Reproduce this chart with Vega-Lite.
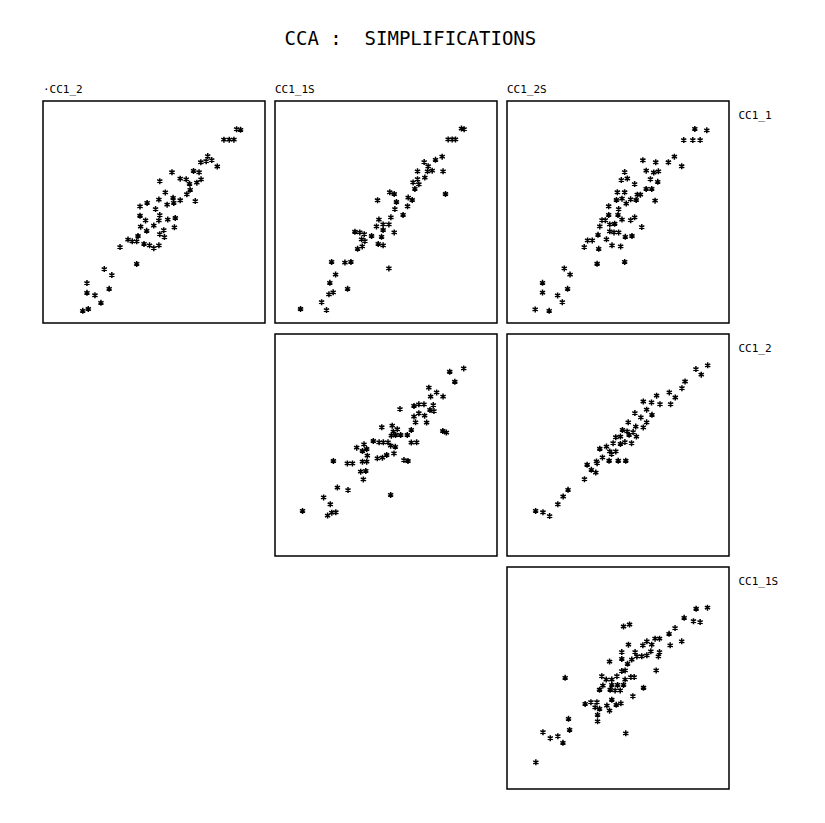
{
  "$schema": "https://vega.github.io/schema/vega-lite/v6.json",
  "background": "white",
  "padding": {"left": 42, "top": 30, "right": 5, "bottom": 5},
  "title": {"text": "CCA :\u00a0 SIMPLIFICATIONS", "font": "DejaVu Sans Mono", "fontSize": 19, "fontWeight": "normal", "color": "black", "anchor": "middle", "offset": 34},
  "config": {
    "view": {"stroke": "black", "strokeWidth": 1.5},
    "title": {"font": "DejaVu Sans Mono", "fontWeight": "normal", "color": "black"}
  },
  "columns": 3,
  "spacing": {"row": 9, "column": 8},
  "data": {"values": [
    {"p":"a","x":87.2,"y":87.3},{"p":"a","x":89.0,"y":87.0},{"p":"a","x":81.5,"y":82.6},{"p":"a","x":83.9,"y":82.6},{"p":"a","x":86.0,"y":82.6},
    {"p":"a","x":74.2,"y":75.2},{"p":"a","x":71.1,"y":72.4},{"p":"a","x":73.5,"y":72.9},{"p":"a","x":76.0,"y":73.4},{"p":"a","x":78.5,"y":70.5},
    {"p":"a","x":58.1,"y":67.9},{"p":"a","x":67.8,"y":68.5},{"p":"a","x":70.3,"y":67.9},{"p":"a","x":52.6,"y":63.9},{"p":"a","x":61.8,"y":65.0},
    {"p":"a","x":64.5,"y":64.7},{"p":"a","x":66.0,"y":62.7},{"p":"a","x":69.3,"y":63.2},{"p":"a","x":71.2,"y":64.7},{"p":"a","x":66.3,"y":60.0},
    {"p":"a","x":55.1,"y":58.8},{"p":"a","x":52.2,"y":55.6},{"p":"a","x":55.9,"y":53.3},{"p":"a","x":58.6,"y":56.4},{"p":"a","x":58.9,"y":54.1},
    {"p":"a","x":61.8,"y":55.3},{"p":"a","x":64.8,"y":58.0},{"p":"a","x":68.6,"y":54.9},{"p":"a","x":43.7,"y":52.5},{"p":"a","x":46.9,"y":54.1},
    {"p":"a","x":50.7,"y":51.3},{"p":"a","x":52.6,"y":48.6},{"p":"a","x":56.2,"y":46.6},{"p":"a","x":59.6,"y":47.3},{"p":"a","x":46.2,"y":46.2},
    {"p":"a","x":43.7,"y":48.3},{"p":"a","x":52.2,"y":46.2},{"p":"a","x":54.4,"y":41.8},{"p":"a","x":59.2,"y":43.1},{"p":"a","x":44.0,"y":43.4},
    {"p":"a","x":46.7,"y":41.5},{"p":"a","x":49.9,"y":43.9},{"p":"a","x":52.6,"y":40.0},{"p":"a","x":54.7,"y":38.7},{"p":"a","x":42.8,"y":39.2},
    {"p":"a","x":38.3,"y":37.6},{"p":"a","x":40.2,"y":36.8},{"p":"a","x":42.2,"y":36.8},{"p":"a","x":45.5,"y":35.6},{"p":"a","x":48.0,"y":35.0},
    {"p":"a","x":49.9,"y":33.7},{"p":"a","x":52.2,"y":35.0},{"p":"a","x":34.7,"y":34.2},{"p":"a","x":42.2,"y":26.6},{"p":"a","x":27.6,"y":24.3},
    {"p":"a","x":31.0,"y":21.6},{"p":"a","x":19.8,"y":18.0},{"p":"a","x":29.8,"y":15.4},{"p":"a","x":19.8,"y":13.6},{"p":"a","x":23.4,"y":12.5},
    {"p":"a","x":26.1,"y":9.1},{"p":"a","x":17.9,"y":5.5},{"p":"a","x":20.4,"y":6.3},

    {"p":"b","x":84.0,"y":87.6},{"p":"b","x":85.2,"y":87.3},{"p":"b","x":78.0,"y":82.7},{"p":"b","x":79.8,"y":82.7},{"p":"b","x":81.3,"y":82.7},
    {"p":"b","x":75.3,"y":74.9},{"p":"b","x":72.3,"y":73.5},{"p":"b","x":67.2,"y":72.5},{"p":"b","x":69.0,"y":70.6},{"p":"b","x":70.8,"y":68.6},
    {"p":"b","x":64.2,"y":68.3},{"p":"b","x":68.7,"y":68.3},{"p":"b","x":75.7,"y":68.3},{"p":"b","x":64.2,"y":64.8},{"p":"b","x":67.5,"y":65.5},
    {"p":"b","x":62.2,"y":63.3},{"p":"b","x":64.8,"y":62.5},{"p":"b","x":63.0,"y":60.4},{"p":"b","x":76.8,"y":58.1},{"p":"b","x":46.2,"y":55.3},
    {"p":"b","x":51.7,"y":58.9},{"p":"b","x":53.7,"y":58.1},{"p":"b","x":54.7,"y":54.5},{"p":"b","x":60.0,"y":56.5},{"p":"b","x":61.8,"y":55.4},
    {"p":"b","x":59.7,"y":52.6},{"p":"b","x":54.0,"y":51.3},{"p":"b","x":57.7,"y":48.7},{"p":"b","x":52.2,"y":47.6},{"p":"b","x":46.8,"y":46.6},
    {"p":"b","x":45.7,"y":43.5},{"p":"b","x":48.7,"y":44.4},{"p":"b","x":51.3,"y":44.4},{"p":"b","x":48.7,"y":41.9},{"p":"b","x":53.7,"y":40.8},
    {"p":"b","x":48.0,"y":38.8},{"p":"b","x":36.0,"y":41.1},{"p":"b","x":38.2,"y":40.8},{"p":"b","x":40.2,"y":40.0},{"p":"b","x":43.5,"y":39.2},
    {"p":"b","x":39.0,"y":37.7},{"p":"b","x":40.5,"y":36.9},{"p":"b","x":46.5,"y":35.6},{"p":"b","x":48.7,"y":35.0},{"p":"b","x":39.3,"y":34.5},
    {"p":"b","x":37.2,"y":33.4},{"p":"b","x":51.3,"y":24.6},{"p":"b","x":25.5,"y":27.5},{"p":"b","x":31.5,"y":27.2},{"p":"b","x":34.2,"y":27.5},
    {"p":"b","x":27.3,"y":21.8},{"p":"b","x":24.7,"y":18.1},{"p":"b","x":26.2,"y":13.8},{"p":"b","x":24.3,"y":12.9},{"p":"b","x":32.7,"y":15.4},
    {"p":"b","x":21.0,"y":9.4},{"p":"b","x":11.5,"y":6.3},{"p":"b","x":23.2,"y":5.8},

    {"p":"c","x":84.6,"y":87.4},{"p":"c","x":90.0,"y":86.8},{"p":"c","x":79.6,"y":82.4},{"p":"c","x":83.7,"y":82.4},{"p":"c","x":87.0,"y":82.4},
    {"p":"c","x":61.2,"y":73.3},{"p":"c","x":67.0,"y":72.4},{"p":"c","x":72.7,"y":72.4},{"p":"c","x":75.4,"y":74.9},{"p":"c","x":78.7,"y":70.6},
    {"p":"c","x":53.0,"y":68.0},{"p":"c","x":62.7,"y":68.6},{"p":"c","x":66.1,"y":67.8},{"p":"c","x":68.2,"y":68.3},{"p":"c","x":51.5,"y":64.4},
    {"p":"c","x":54.2,"y":65.1},{"p":"c","x":64.6,"y":64.8},{"p":"c","x":67.9,"y":63.6},{"p":"c","x":57.5,"y":62.6},{"p":"c","x":62.7,"y":60.4},
    {"p":"c","x":65.2,"y":60.4},{"p":"c","x":66.7,"y":55.1},{"p":"c","x":49.7,"y":58.9},{"p":"c","x":53.0,"y":58.9},{"p":"c","x":49.3,"y":55.4},
    {"p":"c","x":51.8,"y":56.0},{"p":"c","x":53.7,"y":53.8},{"p":"c","x":55.7,"y":55.7},{"p":"c","x":58.2,"y":55.4},{"p":"c","x":58.7,"y":57.8},
    {"p":"c","x":60.1,"y":57.8},{"p":"c","x":45.8,"y":52.6},{"p":"c","x":50.3,"y":51.3},{"p":"c","x":45.8,"y":48.7},{"p":"c","x":50.0,"y":48.7},
    {"p":"c","x":42.8,"y":46.3},{"p":"c","x":44.3,"y":46.3},{"p":"c","x":51.8,"y":46.6},{"p":"c","x":55.7,"y":46.3},{"p":"c","x":57.5,"y":47.6},
    {"p":"c","x":41.8,"y":43.5},{"p":"c","x":46.3,"y":44.4},{"p":"c","x":48.5,"y":44.7},{"p":"c","x":46.3,"y":41.3},{"p":"c","x":48.2,"y":40.8},
    {"p":"c","x":50.3,"y":40.8},{"p":"c","x":53.3,"y":38.8},{"p":"c","x":56.3,"y":39.2},{"p":"c","x":60.7,"y":43.2},{"p":"c","x":41.0,"y":39.7},
    {"p":"c","x":36.3,"y":37.2},{"p":"c","x":38.4,"y":37.2},{"p":"c","x":34.8,"y":34.2},{"p":"c","x":44.8,"y":37.7},{"p":"c","x":47.3,"y":35.0},
    {"p":"c","x":51.2,"y":34.5},{"p":"c","x":41.3,"y":33.4},{"p":"c","x":40.6,"y":26.7},{"p":"c","x":53.0,"y":27.5},{"p":"c","x":25.8,"y":24.6},
    {"p":"c","x":28.4,"y":21.8},{"p":"c","x":16.0,"y":18.1},{"p":"c","x":16.0,"y":13.7},{"p":"c","x":27.3,"y":15.4},{"p":"c","x":22.8,"y":12.4},
    {"p":"c","x":24.9,"y":9.4},{"p":"c","x":12.7,"y":6.1},{"p":"c","x":19.0,"y":5.5},

    {"p":"d","x":85.0,"y":84.5},{"p":"d","x":78.7,"y":83.0},{"p":"d","x":81.0,"y":78.5},{"p":"d","x":69.3,"y":75.8},{"p":"d","x":72.8,"y":73.7},
    {"p":"d","x":70.1,"y":71.8},{"p":"d","x":75.7,"y":71.8},{"p":"d","x":62.6,"y":67.6},{"p":"d","x":64.8,"y":68.3},{"p":"d","x":67.1,"y":68.3},
    {"p":"d","x":71.3,"y":68.0},{"p":"d","x":69.8,"y":65.8},{"p":"d","x":71.6,"y":65.3},{"p":"d","x":56.3,"y":66.2},{"p":"d","x":62.6,"y":62.8},
    {"p":"d","x":64.8,"y":64.3},{"p":"d","x":67.4,"y":63.2},{"p":"d","x":63.3,"y":60.2},{"p":"d","x":68.3,"y":60.1},{"p":"d","x":61.4,"y":56.8},
    {"p":"d","x":48.1,"y":58.0},{"p":"d","x":52.8,"y":58.7},{"p":"d","x":55.1,"y":57.1},{"p":"d","x":53.3,"y":56.0},{"p":"d","x":52.4,"y":54.2},
    {"p":"d","x":54.3,"y":54.5},{"p":"d","x":56.6,"y":54.5},{"p":"d","x":59.6,"y":54.5},{"p":"d","x":75.6,"y":56.3},{"p":"d","x":77.2,"y":55.6},
    {"p":"d","x":44.3,"y":51.8},{"p":"d","x":46.9,"y":51.2},{"p":"d","x":48.8,"y":51.2},{"p":"d","x":50.9,"y":51.2},{"p":"d","x":52.1,"y":49.7},
    {"p":"d","x":54.2,"y":49.2},{"p":"d","x":53.6,"y":46.2},{"p":"d","x":50.3,"y":45.5},{"p":"d","x":48.4,"y":44.3},{"p":"d","x":46.1,"y":44.0},
    {"p":"d","x":36.8,"y":48.8},{"p":"d","x":40.1,"y":50.3},{"p":"d","x":39.4,"y":47.3},{"p":"d","x":41.3,"y":48.2},{"p":"d","x":41.6,"y":45.2},
    {"p":"d","x":61.4,"y":51.1},{"p":"d","x":63.8,"y":51.2},{"p":"d","x":58.1,"y":43.2},{"p":"d","x":59.9,"y":42.8},{"p":"d","x":26.3,"y":42.8},
    {"p":"d","x":32.6,"y":41.7},{"p":"d","x":34.9,"y":41.7},{"p":"d","x":39.4,"y":42.5},{"p":"d","x":41.3,"y":42.5},{"p":"d","x":38.6,"y":38.0},
    {"p":"d","x":40.9,"y":38.3},{"p":"d","x":39.8,"y":34.5},{"p":"d","x":28.1,"y":30.8},{"p":"d","x":32.9,"y":29.7},{"p":"d","x":21.9,"y":26.4},
    {"p":"d","x":24.9,"y":23.3},{"p":"d","x":23.7,"y":18.2},{"p":"d","x":25.6,"y":19.5},{"p":"d","x":27.4,"y":19.7},{"p":"d","x":12.4,"y":20.3},
    {"p":"d","x":52.1,"y":27.5},

    {"p":"e","x":90.4,"y":85.9},{"p":"e","x":85.1,"y":84.2},{"p":"e","x":87.5,"y":81.7},{"p":"e","x":80.2,"y":78.6},{"p":"e","x":78.8,"y":75.6},
    {"p":"e","x":73.1,"y":73.7},{"p":"e","x":75.8,"y":71.4},{"p":"e","x":73.7,"y":68.4},{"p":"e","x":67.4,"y":72.2},{"p":"e","x":61.4,"y":69.6},
    {"p":"e","x":65.1,"y":69.2},{"p":"e","x":68.9,"y":68.4},{"p":"e","x":62.9,"y":65.9},{"p":"e","x":65.3,"y":63.6},{"p":"e","x":57.6,"y":64.4},
    {"p":"e","x":60.3,"y":62.4},{"p":"e","x":62.9,"y":60.2},{"p":"e","x":61.4,"y":57.9},{"p":"e","x":54.6,"y":60.2},{"p":"e","x":58.0,"y":58.3},
    {"p":"e","x":52.0,"y":56.8},{"p":"e","x":56.8,"y":55.8},{"p":"e","x":58.3,"y":53.8},{"p":"e","x":49.0,"y":53.5},{"p":"e","x":51.1,"y":53.8},
    {"p":"e","x":55.0,"y":54.6},{"p":"e","x":53.1,"y":51.3},{"p":"e","x":51.1,"y":50.5},{"p":"e","x":56.1,"y":50.8},{"p":"e","x":47.8,"y":50.8},
    {"p":"e","x":44.8,"y":49.3},{"p":"e","x":41.8,"y":48.3},{"p":"e","x":49.0,"y":47.1},{"p":"e","x":47.1,"y":45.9},{"p":"e","x":43.0,"y":44.4},
    {"p":"e","x":46.0,"y":42.9},{"p":"e","x":40.6,"y":41.8},{"p":"e","x":50.1,"y":42.9},{"p":"e","x":53.5,"y":42.9},{"p":"e","x":36.1,"y":41.1},
    {"p":"e","x":38.0,"y":38.8},{"p":"e","x":40.0,"y":37.6},{"p":"e","x":34.9,"y":34.6},{"p":"e","x":27.5,"y":29.8},{"p":"e","x":25.3,"y":26.8},
    {"p":"e","x":22.9,"y":23.3},{"p":"e","x":12.9,"y":20.3},{"p":"e","x":16.2,"y":19.7},{"p":"e","x":19.2,"y":18.0},{"p":"e","x":54.1,"y":56.1},
    {"p":"e","x":46.3,"y":47.1},{"p":"e","x":40.3,"y":42.6},

    {"p":"f","x":90.3,"y":81.7},{"p":"f","x":85.2,"y":81.2},{"p":"f","x":79.8,"y":77.1},{"p":"f","x":84.0,"y":75.6},{"p":"f","x":87.0,"y":75.2},
    {"p":"f","x":75.7,"y":72.5},{"p":"f","x":73.0,"y":69.9},{"p":"f","x":78.7,"y":66.5},{"p":"f","x":73.5,"y":64.7},{"p":"f","x":52.5,"y":73.2},
    {"p":"f","x":55.2,"y":74.1},{"p":"f","x":54.7,"y":65.0},{"p":"f","x":61.2,"y":64.7},{"p":"f","x":63.0,"y":66.5},{"p":"f","x":65.2,"y":65.0},
    {"p":"f","x":66.7,"y":67.7},{"p":"f","x":68.7,"y":67.7},{"p":"f","x":64.8,"y":62.0},{"p":"f","x":68.7,"y":61.7},{"p":"f","x":68.2,"y":59.7},
    {"p":"f","x":51.7,"y":61.7},{"p":"f","x":57.7,"y":61.7},{"p":"f","x":51.7,"y":58.6},{"p":"f","x":46.2,"y":57.4},{"p":"f","x":56.2,"y":58.3},
    {"p":"f","x":58.5,"y":59.7},{"p":"f","x":60.7,"y":59.8},{"p":"f","x":63.0,"y":60.2},{"p":"f","x":54.3,"y":56.4},{"p":"f","x":51.7,"y":53.1},
    {"p":"f","x":53.2,"y":53.4},{"p":"f","x":26.2,"y":50.1},{"p":"f","x":67.2,"y":53.4},{"p":"f","x":42.7,"y":50.8},{"p":"f","x":44.7,"y":49.3},
    {"p":"f","x":47.2,"y":49.3},{"p":"f","x":49.5,"y":50.8},{"p":"f","x":53.2,"y":49.3},{"p":"f","x":55.8,"y":50.4},{"p":"f","x":57.3,"y":50.4},
    {"p":"f","x":43.2,"y":46.6},{"p":"f","x":47.2,"y":46.9},{"p":"f","x":49.8,"y":46.9},{"p":"f","x":52.5,"y":46.9},{"p":"f","x":41.7,"y":44.7},
    {"p":"f","x":46.5,"y":44.7},{"p":"f","x":48.7,"y":44.4},{"p":"f","x":51.0,"y":44.4},{"p":"f","x":61.5,"y":45.6},{"p":"f","x":56.7,"y":41.8},
    {"p":"f","x":35.2,"y":38.3},{"p":"f","x":37.8,"y":39.1},{"p":"f","x":40.5,"y":39.1},{"p":"f","x":39.7,"y":36.8},{"p":"f","x":41.7,"y":36.1},
    {"p":"f","x":45.0,"y":37.6},{"p":"f","x":47.2,"y":40.2},{"p":"f","x":49.2,"y":37.9},{"p":"f","x":51.3,"y":38.6},{"p":"f","x":46.2,"y":35.3},
    {"p":"f","x":40.8,"y":33.4},{"p":"f","x":40.8,"y":30.5},{"p":"f","x":27.7,"y":31.6},{"p":"f","x":28.2,"y":26.6},{"p":"f","x":16.2,"y":25.6},
    {"p":"f","x":19.5,"y":22.9},{"p":"f","x":22.9,"y":23.8},{"p":"f","x":25.2,"y":20.8},{"p":"f","x":53.5,"y":25.1},{"p":"f","x":13.0,"y":12.0}
  ]},
  "concat": [
    {
      "width": 222, "height": 222,
      "title": {"text": "·CC1_2", "anchor": "start", "fontSize": 11, "offset": 6},
      "transform": [{"filter": "datum.p == 'a'"}],
      "mark": {"type": "point", "shape": "M0,-1L0,1M-0.87,-0.5L0.87,0.5M-0.87,0.5L0.87,-0.5", "filled": false, "stroke": "black", "strokeWidth": 1.5, "size": 36, "opacity": 1},
      "encoding": {
        "x": {"field": "x", "type": "quantitative", "scale": {"domain": [0, 100]}, "axis": null},
        "y": {"field": "y", "type": "quantitative", "scale": {"domain": [0, 100]}, "axis": null}
      }
    },
    {
      "width": 222, "height": 222,
      "title": {"text": "CC1_1S", "anchor": "start", "fontSize": 11, "offset": 6},
      "transform": [{"filter": "datum.p == 'b'"}],
      "mark": {"type": "point", "shape": "M0,-1L0,1M-0.87,-0.5L0.87,0.5M-0.87,0.5L0.87,-0.5", "filled": false, "stroke": "black", "strokeWidth": 1.5, "size": 36, "opacity": 1},
      "encoding": {
        "x": {"field": "x", "type": "quantitative", "scale": {"domain": [0, 100]}, "axis": null},
        "y": {"field": "y", "type": "quantitative", "scale": {"domain": [0, 100]}, "axis": null}
      }
    },
    {
      "width": 222, "height": 222,
      "title": {"text": "CC1_2S", "anchor": "start", "fontSize": 11, "offset": 6},
      "transform": [{"filter": "datum.p == 'c'"}],
      "mark": {"type": "point", "shape": "M0,-1L0,1M-0.87,-0.5L0.87,0.5M-0.87,0.5L0.87,-0.5", "filled": false, "stroke": "black", "strokeWidth": 1.5, "size": 36, "opacity": 1},
      "encoding": {
        "x": {"field": "x", "type": "quantitative", "scale": {"domain": [0, 100]}, "axis": null},
        "y": {"field": "y", "type": "quantitative", "scale": {"domain": [0, 100]}, "axis": {"orient": "right", "title": "CC1_1", "labels": false, "ticks": false, "domain": false, "grid": false, "titleAngle": 0, "titleAlign": "left", "titleBaseline": "top", "titleX": 9, "titleY": 8, "titleFont": "DejaVu Sans Mono", "titleFontSize": 11, "titleFontWeight": "normal", "titleColor": "black"}}
      }
    },
    {
      "width": 222, "height": 222,
      "view": {"stroke": null},
      "transform": [{"filter": "false"}],
      "mark": {"type": "point"},
      "encoding": {
        "x": {"field": "x", "type": "quantitative", "axis": null},
        "y": {"field": "y", "type": "quantitative", "axis": null}
      }
    },
    {
      "width": 222, "height": 222,
      "transform": [{"filter": "datum.p == 'd'"}],
      "mark": {"type": "point", "shape": "M0,-1L0,1M-0.87,-0.5L0.87,0.5M-0.87,0.5L0.87,-0.5", "filled": false, "stroke": "black", "strokeWidth": 1.5, "size": 36, "opacity": 1},
      "encoding": {
        "x": {"field": "x", "type": "quantitative", "scale": {"domain": [0, 100]}, "axis": null},
        "y": {"field": "y", "type": "quantitative", "scale": {"domain": [0, 100]}, "axis": null}
      }
    },
    {
      "width": 222, "height": 222,
      "transform": [{"filter": "datum.p == 'e'"}],
      "mark": {"type": "point", "shape": "M0,-1L0,1M-0.87,-0.5L0.87,0.5M-0.87,0.5L0.87,-0.5", "filled": false, "stroke": "black", "strokeWidth": 1.5, "size": 36, "opacity": 1},
      "encoding": {
        "x": {"field": "x", "type": "quantitative", "scale": {"domain": [0, 100]}, "axis": null},
        "y": {"field": "y", "type": "quantitative", "scale": {"domain": [0, 100]}, "axis": {"orient": "right", "title": "CC1_2", "labels": false, "ticks": false, "domain": false, "grid": false, "titleAngle": 0, "titleAlign": "left", "titleBaseline": "top", "titleX": 9, "titleY": 8, "titleFont": "DejaVu Sans Mono", "titleFontSize": 11, "titleFontWeight": "normal", "titleColor": "black"}}
      }
    },
    {
      "width": 222, "height": 222,
      "view": {"stroke": null},
      "transform": [{"filter": "false"}],
      "mark": {"type": "point"},
      "encoding": {
        "x": {"field": "x", "type": "quantitative", "axis": null},
        "y": {"field": "y", "type": "quantitative", "axis": null}
      }
    },
    {
      "width": 222, "height": 222,
      "view": {"stroke": null},
      "transform": [{"filter": "false"}],
      "mark": {"type": "point"},
      "encoding": {
        "x": {"field": "x", "type": "quantitative", "axis": null},
        "y": {"field": "y", "type": "quantitative", "axis": null}
      }
    },
    {
      "width": 222, "height": 222,
      "transform": [{"filter": "datum.p == 'f'"}],
      "mark": {"type": "point", "shape": "M0,-1L0,1M-0.87,-0.5L0.87,0.5M-0.87,0.5L0.87,-0.5", "filled": false, "stroke": "black", "strokeWidth": 1.5, "size": 36, "opacity": 1},
      "encoding": {
        "x": {"field": "x", "type": "quantitative", "scale": {"domain": [0, 100]}, "axis": null},
        "y": {"field": "y", "type": "quantitative", "scale": {"domain": [0, 100]}, "axis": {"orient": "right", "title": "CC1_1S", "labels": false, "ticks": false, "domain": false, "grid": false, "titleAngle": 0, "titleAlign": "left", "titleBaseline": "top", "titleX": 9, "titleY": 8, "titleFont": "DejaVu Sans Mono", "titleFontSize": 11, "titleFontWeight": "normal", "titleColor": "black"}}
      }
    }
  ]
}
